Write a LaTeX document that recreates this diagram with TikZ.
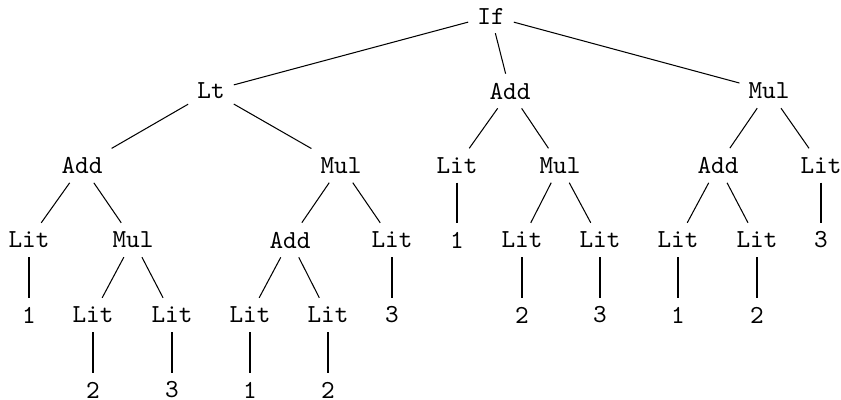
\documentclass[tikz,border=0pt]{standalone}
\usepackage{fontspec}
\begin{document}
\begin{tikzpicture}[x=0.385pt,y=-0.385pt,
  tn/.style={font=\ttfamily, inner sep=3.33pt},
  edge/.style={draw=black, line width=0.4pt}]
\useasboundingbox (0,0) rectangle (841,400);
% row 0
\node[tn] (if) at (491,16) {If};
% row 1
\node[tn] (lt) at (211,91) {Lt};
\node[tn] (add1) at (510,91) {Add};
\node[tn] (mul1) at (769,91) {Mul};
% row 2
\node[tn] (add2a) at (82,165.5) {Add};
\node[tn] (mul2a) at (341,165.5) {Mul};
\node[tn] (lit2a) at (457,165.5) {Lit};
\node[tn] (mul2b) at (560,165.5) {Mul};
\node[tn] (add2b) at (718,165.5) {Add};
\node[tn] (lit2b) at (821,165.5) {Lit};
% row 3
\node[tn] (lit3a) at (29,240) {Lit};
\node[tn] (mul3a) at (133,240) {Mul};
\node[tn] (add3a) at (290,240) {Add};
\node[tn] (lit3b) at (392,240) {Lit};
\node[tn] (n3a) at (457,240) {1};
\node[tn] (lit3c) at (522,240) {Lit};
\node[tn] (lit3d) at (600,240) {Lit};
\node[tn] (lit3e) at (678,240) {Lit};
\node[tn] (lit3f) at (757,240) {Lit};
\node[tn] (n3b) at (821,240) {3};
% row 4
\node[tn] (n4a) at (29,315) {1};
\node[tn] (lit4a) at (93,315) {Lit};
\node[tn] (lit4b) at (172,315) {Lit};
\node[tn] (lit4c) at (250,315) {Lit};
\node[tn] (lit4d) at (328,315) {Lit};
\node[tn] (n4b) at (392,315) {3};
\node[tn] (n4c) at (522,315) {2};
\node[tn] (n4d) at (600,315) {3};
\node[tn] (n4e) at (678,315) {1};
\node[tn] (n4f) at (757,315) {2};
% row 5
\node[tn] (n5a) at (93,390) {2};
\node[tn] (n5b) at (172,390) {3};
\node[tn] (n5c) at (250,390) {1};
\node[tn] (n5d) at (328,390) {2};
% edges
\draw[edge] (if) -- (lt);
\draw[edge] (if) -- (add1);
\draw[edge] (if) -- (mul1);
\draw[edge] (lt) -- (add2a);
\draw[edge] (lt) -- (mul2a);
\draw[edge] (add1) -- (lit2a);
\draw[edge] (add1) -- (mul2b);
\draw[edge] (mul1) -- (add2b);
\draw[edge] (mul1) -- (lit2b);
\draw[edge] (add2a) -- (lit3a);
\draw[edge] (add2a) -- (mul3a);
\draw[edge] (mul2a) -- (add3a);
\draw[edge] (mul2a) -- (lit3b);
\draw[edge] (lit2a) -- (n3a);
\draw[edge] (mul2b) -- (lit3c);
\draw[edge] (mul2b) -- (lit3d);
\draw[edge] (add2b) -- (lit3e);
\draw[edge] (add2b) -- (lit3f);
\draw[edge] (lit2b) -- (n3b);
\draw[edge] (lit3a) -- (n4a);
\draw[edge] (mul3a) -- (lit4a);
\draw[edge] (mul3a) -- (lit4b);
\draw[edge] (add3a) -- (lit4c);
\draw[edge] (add3a) -- (lit4d);
\draw[edge] (lit3b) -- (n4b);
\draw[edge] (lit3c) -- (n4c);
\draw[edge] (lit3d) -- (n4d);
\draw[edge] (lit3e) -- (n4e);
\draw[edge] (lit3f) -- (n4f);
\draw[edge] (lit4a) -- (n5a);
\draw[edge] (lit4b) -- (n5b);
\draw[edge] (lit4c) -- (n5c);
\draw[edge] (lit4d) -- (n5d);
\end{tikzpicture}
\end{document}
